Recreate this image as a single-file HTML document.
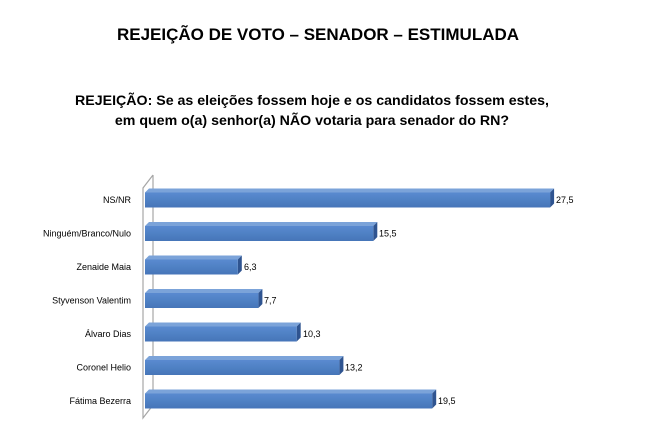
<!DOCTYPE html>
<html><head><meta charset="utf-8"><style>
body{margin:0;width:649px;height:435px;background:#fff;overflow:hidden;font-family:"Liberation Sans",sans-serif}
</style></head><body>
<svg width="649" height="435" xmlns="http://www.w3.org/2000/svg">
<defs>
<linearGradient id="g" x1="0" y1="0" x2="0" y2="1">
<stop offset="0" stop-color="#5a8ad0"/><stop offset="0.5" stop-color="#4f81c4"/><stop offset="1" stop-color="#4675b8"/>
</linearGradient>
</defs>
<text x="318" y="40" text-anchor="middle" font-size="17" font-weight="bold" fill="#000">REJEIÇÃO DE VOTO – SENADOR – ESTIMULADA</text>
<text x="312" y="105" text-anchor="middle" font-size="14.2" font-weight="bold" fill="#000">REJEIÇÃO: Se as eleições fossem hoje e os candidatos fossem estes,</text>
<text x="312" y="125" text-anchor="middle" font-size="14.2" font-weight="bold" fill="#000">em quem o(a) senhor(a) NÃO votaria para senador do RN?</text>
<polyline points="153,175 153,405 143,418 143,188 153,175" fill="none" stroke="#a6a6a6" stroke-width="1.2"/>
<g font-size="9" fill="#000">
<!-- bar template: top, side, front -->
<polygon points="145,192.5 149,188.5 554.1,188.5 550.1,192.5" fill="#7ba3d9"/><polygon points="550.1,192.5 554.1,188.5 554.1,203.5 550.1,207.5" fill="#2f5490"/><rect x="145" y="192.5" width="405.1" height="15" fill="url(#g)"/>
<text x="131" y="203" text-anchor="end">NS/NR</text><text x="556" y="203">27,5</text>

<polygon points="145,226 149,222 377.3,222 373.3,226" fill="#7ba3d9"/><polygon points="373.3,226 377.3,222 377.3,237 373.3,241" fill="#2f5490"/><rect x="145" y="226" width="228.3" height="15" fill="url(#g)"/>
<text x="131" y="236.5" text-anchor="end">Ninguém/Branco/Nulo</text><text x="379" y="236.5">15,5</text>

<polygon points="145,259.5 149,255.5 241.8,255.5 237.8,259.5" fill="#7ba3d9"/><polygon points="237.8,259.5 241.8,255.5 241.8,270.5 237.8,274.5" fill="#2f5490"/><rect x="145" y="259.5" width="92.8" height="15" fill="url(#g)"/>
<text x="131" y="270" text-anchor="end">Zenaide Maia</text><text x="244" y="270">6,3</text>

<polygon points="145,293 149,289 262.4,289 258.4,293" fill="#7ba3d9"/><polygon points="258.4,293 262.4,289 262.4,304 258.4,308" fill="#2f5490"/><rect x="145" y="293" width="113.4" height="15" fill="url(#g)"/>
<text x="131" y="303.5" text-anchor="end">Styvenson Valentim</text><text x="264" y="303.5">7,7</text>

<polygon points="145,326.5 149,322.5 300.7,322.5 296.7,326.5" fill="#7ba3d9"/><polygon points="296.7,326.5 300.7,322.5 300.7,337.5 296.7,341.5" fill="#2f5490"/><rect x="145" y="326.5" width="151.7" height="15" fill="url(#g)"/>
<text x="131" y="337" text-anchor="end">Álvaro Dias</text><text x="303" y="337">10,3</text>

<polygon points="145,360 149,356 343.4,356 339.4,360" fill="#7ba3d9"/><polygon points="339.4,360 343.4,356 343.4,371 339.4,375" fill="#2f5490"/><rect x="145" y="360" width="194.4" height="15" fill="url(#g)"/>
<text x="131" y="370.5" text-anchor="end">Coronel Helio</text><text x="345" y="370.5">13,2</text>

<polygon points="145,393.5 149,389.5 436.2,389.5 432.2,393.5" fill="#7ba3d9"/><polygon points="432.2,393.5 436.2,389.5 436.2,404.5 432.2,408.5" fill="#2f5490"/><rect x="145" y="393.5" width="287.2" height="15" fill="url(#g)"/>
<text x="131" y="404" text-anchor="end">Fátima Bezerra</text><text x="438" y="404">19,5</text>
</g>
</svg>
</body></html>
